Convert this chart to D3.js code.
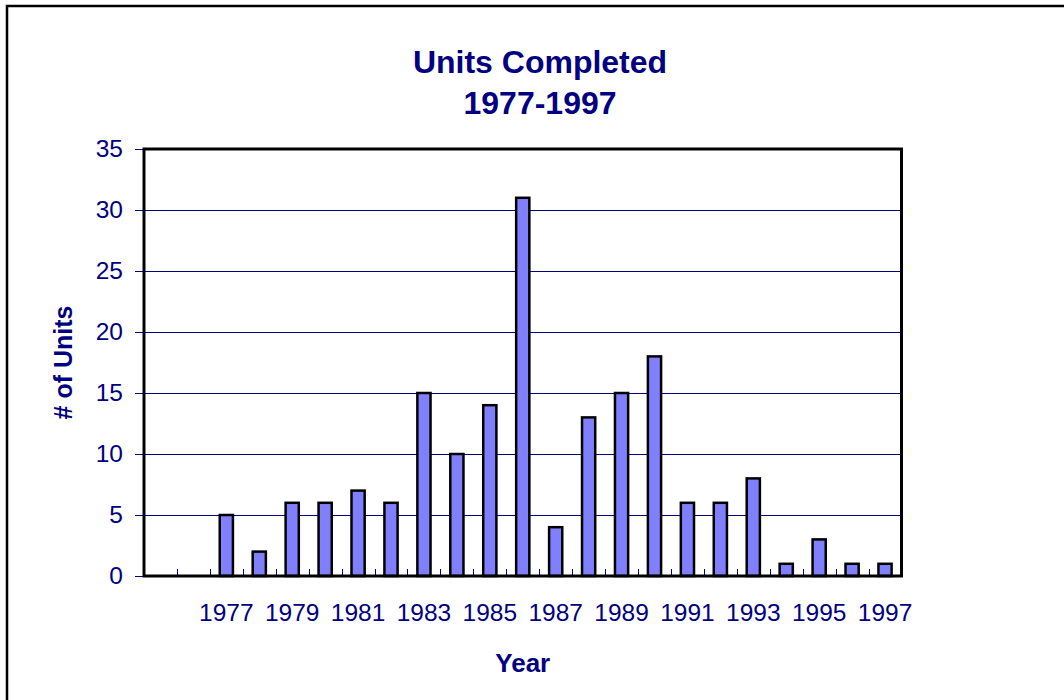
<!DOCTYPE html>
<html>
<head>
<meta charset="utf-8">
<script src="https://cdn.jsdelivr.net/npm/d3@7/dist/d3.min.js"></script>
<style>
  html, body { margin: 0; padding: 0; background: #fff; }
  svg { display: block; font-family: "Liberation Sans", Arial, sans-serif; }
</style>
</head>
<body>
<svg id="chart" width="1064" height="700"></svg>
<script>
const categories = ["1975","1976","1977","1978","1979","1980","1981","1982","1983","1984","1985","1986",
                    "1987","1988","1989","1990","1991","1992","1993","1994","1995","1996","1997"];
const unitsCompleted = [0,0,5,2,6,6,7,6,15,10,14,31,4,13,15,18,6,6,8,1,3,1,1];
const xTickLabels = ["1977","1979","1981","1983","1985","1987","1989","1991","1993","1995","1997"];
const yTickValues = [0,5,10,15,20,25,30,35];
const titleLines = ["Units Completed", "1977-1997"];
const xAxisTitle = "Year";
const yAxisTitle = "# of Units";

const navy = "#000080";
const svg = d3.select("#chart");
const plot = { left: 144, right: 901.5, top: 149, bottom: 576 };

// outer chart border
svg.append("rect").attr("x", 7).attr("y", 6).attr("width", 1100).attr("height", 760)
  .attr("fill", "#fff").attr("stroke", "#000").attr("stroke-width", 2.5);

const x = d3.scaleBand().domain(categories).range([plot.left, plot.right])
  .paddingInner(0.6).paddingOuter(0.3);
const y = d3.scaleLinear().domain([0, 35]).range([plot.bottom, plot.top]);
const yr = v => Math.round(y(v)) + 0.5;

// gridlines
svg.append("g").selectAll("line").data(yTickValues.filter(v => v > 0 && v < 35)).join("line")
  .attr("x1", plot.left).attr("x2", plot.right)
  .attr("y1", d => yr(d)).attr("y2", d => yr(d))
  .attr("stroke", navy).attr("stroke-width", 1).attr("shape-rendering", "crispEdges");

// y axis
const yAxis = svg.append("g").attr("transform", `translate(${plot.left},0)`)
  .call(d3.axisLeft(y).tickValues(yTickValues).tickSize(9).tickPadding(12));
yAxis.select(".domain").remove();
yAxis.selectAll(".tick line").attr("stroke", navy).attr("stroke-width", 1).attr("shape-rendering", "crispEdges");
yAxis.selectAll(".tick text").attr("fill", navy).style("font-size", "24.5px")
  .attr("font-family", "'Liberation Sans', Arial, sans-serif");

// bars
svg.append("g").selectAll("rect").data(categories.map((c, i) => ({ c, v: unitsCompleted[i] })))
  .join("rect")
  .attr("x", d => x(d.c)).attr("width", x.bandwidth())
  .attr("y", d => y(d.v)).attr("height", d => y(0) - y(d.v))
  .attr("fill", "#8080FF").attr("stroke", "#000").attr("stroke-width", 2.5);

// category boundary ticks (pointing up, inside)
const gap = (x.step() - x.bandwidth()) / 2;
svg.append("g").selectAll("line").data(categories.slice(1)).join("line")
  .attr("x1", d => Math.round(x(d) - gap) + 0.5)
  .attr("x2", d => Math.round(x(d) - gap) + 0.5)
  .attr("y1", plot.bottom).attr("y2", plot.bottom - 7)
  .attr("stroke", navy).attr("stroke-width", 1);

// x axis labels
const xAxis = svg.append("g").attr("transform", `translate(0,${plot.bottom})`)
  .call(d3.axisBottom(x).tickValues(xTickLabels).tickSize(0).tickPadding(28));
xAxis.select(".domain").remove();
xAxis.selectAll(".tick text").attr("fill", navy).style("font-size", "24.5px")
  .attr("font-family", "'Liberation Sans', Arial, sans-serif");

// plot border
svg.append("rect").attr("x", plot.left).attr("y", plot.top)
  .attr("width", plot.right - plot.left).attr("height", plot.bottom - plot.top)
  .attr("fill", "none").attr("stroke", "#000").attr("stroke-width", 3);

// titles
svg.append("text").attr("x", 540).attr("y", 73).attr("text-anchor", "middle")
  .attr("fill", navy).attr("font-weight", "bold").style("font-size", "32px").text(titleLines[0]);
svg.append("text").attr("x", 540).attr("y", 114).attr("text-anchor", "middle")
  .attr("fill", navy).attr("font-weight", "bold").style("font-size", "32px").text(titleLines[1]);
svg.append("text").attr("x", (plot.left + plot.right) / 2).attr("y", 672).attr("text-anchor", "middle")
  .attr("fill", navy).attr("font-weight", "bold").style("font-size", "26px").text(xAxisTitle);
svg.append("text").attr("transform", `translate(72,${(plot.top + plot.bottom) / 2}) rotate(-90)`)
  .attr("text-anchor", "middle")
  .attr("fill", navy).attr("font-weight", "bold").style("font-size", "25px").text(yAxisTitle);
</script>
</body>
</html>
